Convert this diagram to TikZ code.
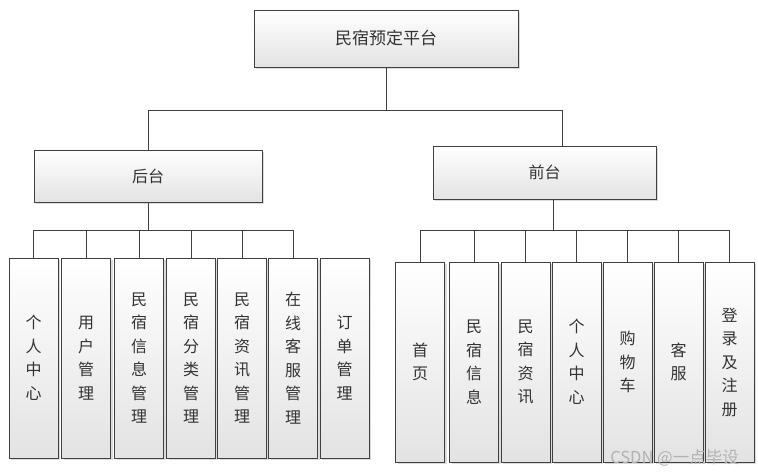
\documentclass[tikz,border=0pt]{standalone}
\usepackage{fontspec}
\setmainfont{Noto Sans CJK SC}
\usetikzlibrary{shadows}

\begin{document}
\begin{tikzpicture}[x=1pt, y=-1pt]
		\tikzstyle{box} = [draw=black!75, line width=0.9pt, top color=white, bottom color=black!11, drop shadow={shadow xshift=2pt, shadow yshift=-2pt, fill=black!14, opacity=1}, text=black!80, inner sep=0pt, align=center, font=\fontsize{16}{23.5}\selectfont]
		\tikzstyle{leaf} = [box, minimum width=49pt, minimum height=200pt]
		\tikzstyle{wire} = [draw=black!75, line width=0.8pt]
		\useasboundingbox (0,0) rectangle (758,476);
		% top level
		\node [box, minimum width=264pt, minimum height=57pt, font=\fontsize{17}{20}\selectfont] (top) at (386,38.5) {民宿预定平台};
		\node [box, minimum width=228pt, minimum height=52pt] (back) at (148,176) {后台};
		\node [box, minimum width=223pt, minimum height=53pt] (front) at (544.5,172.5) {前台};
		% 后台 modules
		\node [leaf] (c1) at (33.5,358) {个\\人\\中\\心};
		\node [leaf] (c2) at (86,358) {用\\户\\管\\理};
		\node [leaf] (c3) at (139,358) {民\\宿\\信\\息\\管\\理};
		\node [leaf] (c4) at (191,358) {民\\宿\\分\\类\\管\\理};
		\node [leaf] (c5) at (242,358) {民\\宿\\资\\讯\\管\\理};
		\node [leaf] (c6) at (293,358) {在\\线\\客\\服\\管\\理};
		\node [leaf] (c7) at (344.5,358) {订\\单\\管\\理};
		% 前台 modules
		\node [leaf] (d1) at (420,362) {首\\页};
		\node [leaf] (d2) at (474,362) {民\\宿\\信\\息};
		\node [leaf] (d3) at (525.5,362) {民\\宿\\资\\讯};
		\node [leaf] (d4) at (576.5,362) {个\\人\\中\\心};
		\node [leaf] (d5) at (627.5,362) {购\\物\\车};
		\node [leaf] (d6) at (678.5,362) {客\\服};
		\node [leaf] (d7) at (729.5,362) {登\\录\\及\\注\\册};
		% junctions
		\coordinate (j0) at (386,110);
		\coordinate (j1) at (148,230);
		\coordinate (f0) at (562,146);
		\coordinate (f1) at (553,199);
		\coordinate (j2) at (553,230);
		\draw [wire] (top.south) -- (j0) -| (back.north);
		\draw [wire] (j0) -| (f0);
		\draw [wire] (back.south) -- (j1);
		\draw [wire] (j1) -| (c1.north);
		\draw [wire] (j1) -| (c2.north);
		\draw [wire] (j1) -| (c3.north);
		\draw [wire] (j1) -| (c4.north);
		\draw [wire] (j1) -| (c5.north);
		\draw [wire] (j1) -| (c6.north);
		\draw [wire] (f1) -- (j2);
		\draw [wire] (j2) -| (d1.north);
		\draw [wire] (j2) -| (d2.north);
		\draw [wire] (j2) -| (d3.north);
		\draw [wire] (j2) -| (d4.north);
		\draw [wire] (j2) -| (d5.north);
		\draw [wire] (j2) -| (d6.north);
		\draw [wire] (j2) -| (d7.north);
		\node [text=black!30, font=\fontsize{16.5}{19}\selectfont, inner sep=0pt] (csdn) at (674.5,458) {CSDN @一点毕设};
\end{tikzpicture}
\end{document}
